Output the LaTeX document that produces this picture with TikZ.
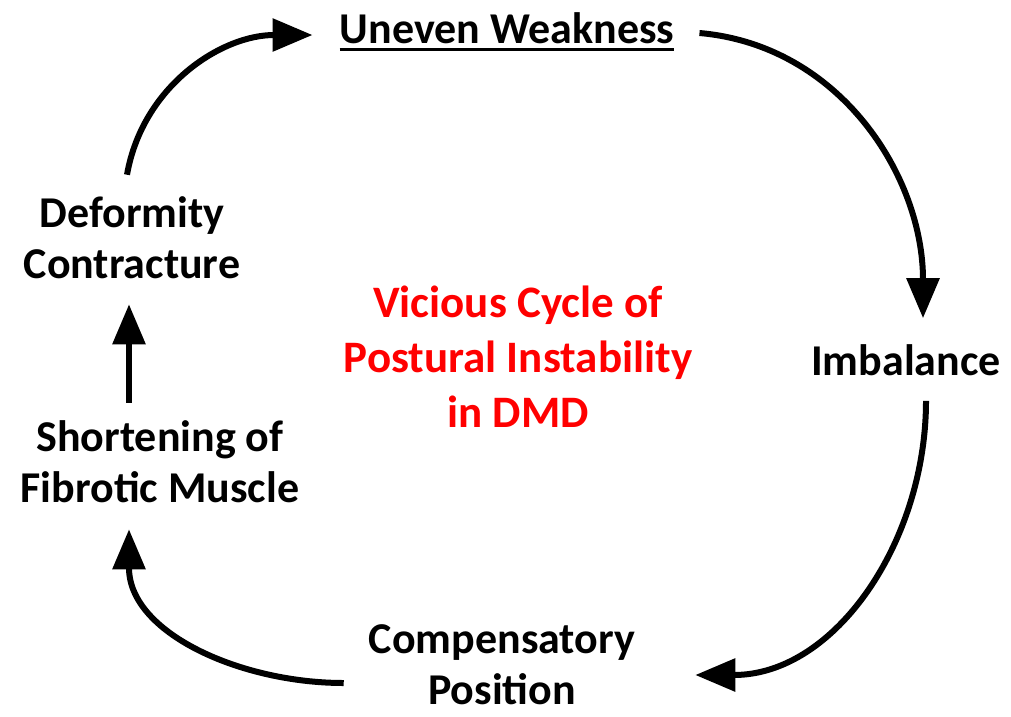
\documentclass[tikz,border=0pt]{standalone}
\usepackage{fontspec}
\setmainfont{Carlito}
\usetikzlibrary{arrows.meta}

\tikzset{
  lbl/.style={font=\bfseries\fontsize{44}{51}\selectfont, align=center, inner sep=0pt},
  ttl/.style={font=\bfseries\fontsize{45}{55}\selectfont, align=center, inner sep=0pt, text=red},
  cyc/.style={line width=6pt, -{Triangle[length=40pt,width=32pt]}},
}

\begin{document}
\begin{tikzpicture}[x=1pt,y=-1pt]
\useasboundingbox (0,0) rectangle (1011,716);

% labels round the cycle
\node[lbl] (uw) at (507,28) {Uneven Weakness};
\node[lbl] (imb) at (906,360) {Imbalance};
\node[lbl] (comp) at (502,665) {Compensatory\\Position};
\node[lbl] (short) at (160,462) {Shortening of\\Fibrotic Muscle};
\node[lbl] (def) at (132,238) {Deformity\\Contracture};
\node[ttl] (cycle) at (518,357) {Vicious Cycle of\\Postural Instability\\in DMD};

\draw[line width=2.5pt] ([yshift=-6pt]uw.base west) -- ([yshift=-6pt]uw.base east);

% arrows
\draw[cyc] ([xshift=-5pt,yshift=22pt]def.north) to[out=80,in=180] ([xshift=-27pt,yshift=-7pt]uw.west);
\draw[cyc] ([xshift=25pt,yshift=-5pt]uw.east) to[out=-5,in=90] ([xshift=17pt,yshift=26pt]imb.north);
\draw[cyc] ([xshift=20pt,yshift=-25pt]imb.south) to[out=-90,in=0] ([xshift=60pt,yshift=-10pt]comp.east);
\draw[cyc] ([xshift=-25pt,yshift=-18pt]comp.west) to[out=180,in=-90] ([xshift=-31pt,yshift=-26pt]short.south);
\draw[cyc] ([xshift=-31pt,yshift=18pt]short.north) -- ([xshift=-3pt,yshift=-25pt]def.south);
\end{tikzpicture}
\end{document}
